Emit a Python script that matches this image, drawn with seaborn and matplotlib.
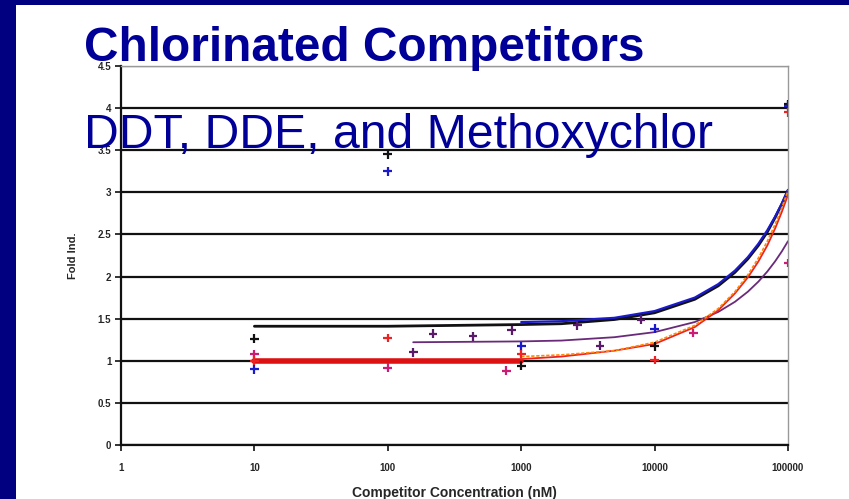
import pandas as pd
import seaborn as sns
import matplotlib.pyplot as plt
from matplotlib.patches import Rectangle

# fitted trend lines
conc_fit = [10, 100, 1000, 2000, 5000, 10000, 20000, 30000, 40000, 50000, 60000, 70000, 80000, 90000, 100000]
black_fit = [1.41, 1.41, 1.43, 1.44, 1.49, 1.57, 1.73, 1.89, 2.05, 2.21, 2.37, 2.53, 2.70, 2.86, 3.02]
blue_fit = [1.46, 1.47, 1.51, 1.59, 1.75, 1.91, 2.07, 2.23, 2.39, 2.55, 2.71, 2.87, 3.03]
purple_conc = [155, 1000, 2000, 5000, 10000, 20000, 30000, 40000, 50000, 60000, 70000, 80000, 90000, 100000]
purple_fit = [1.22, 1.23, 1.24, 1.28, 1.34, 1.46, 1.58, 1.70, 1.82, 1.94, 2.06, 2.18, 2.30, 2.42]
red_flat_conc = [10, 1000]
red_flat = [1.0, 1.0]
red_fit = [1.02, 1.05, 1.12, 1.20, 1.40, 1.60, 1.80, 1.99, 2.18, 2.37, 2.57, 2.77, 2.97]
orange_fit = [1.05, 1.07, 1.12, 1.22, 1.42, 1.62, 1.82, 2.02, 2.22, 2.42, 2.62, 2.82, 3.02]

# measured points
black_x = [10, 100, 1000, 10000, 100000]
black_y = [1.26, 3.45, 0.94, 1.17, 4.05]
blue_x = [10, 100, 1000, 10000, 100000]
blue_y = [0.90, 3.25, 1.17, 1.38, 4.03]
purple_x = [155, 218, 436, 850, 2630, 3900, 7900]
purple_y = [1.10, 1.32, 1.29, 1.36, 1.42, 1.18, 1.49]
magenta_x = [10, 100, 775, 19500, 100000]
magenta_y = [1.08, 0.92, 0.88, 1.33, 2.16]
red_x = [10, 100, 1000, 10000, 100000]
red_y = [1.00, 1.27, 1.08, 1.01, 3.95]

x_ticks = [1, 10, 100, 1000, 10000, 100000]
x_labels = ["1", "10", "100", "1000", "10000", "100000"]
y_ticks = [0, 0.5, 1, 1.5, 2, 2.5, 3, 3.5, 4, 4.5]
y_labels = ["0", "0.5", "1", "1.5", "2", "2.5", "3", "3.5", "4", "4.5"]

pts = pd.concat([
    pd.DataFrame({"conc": black_x, "val": black_y, "set": "black"}),
    pd.DataFrame({"conc": blue_x, "val": blue_y, "set": "blue"}),
    pd.DataFrame({"conc": purple_x, "val": purple_y, "set": "purple"}),
    pd.DataFrame({"conc": magenta_x, "val": magenta_y, "set": "magenta"}),
    pd.DataFrame({"conc": red_x, "val": red_y, "set": "red"}),
])
pal = {"black": "#111111", "blue": "#1a1acc", "purple": "#5a1a6a", "magenta": "#cc1a77", "red": "#ee2222"}

sns.set_style("white")
plt.rcParams['font.family'] = ['Liberation Sans', 'DejaVu Sans']

fig = plt.figure(figsize=(8.49, 4.99), dpi=100)
fig.patch.set_facecolor("#000080")
# white slide panel behind everything
panel = Rectangle((16 / 849, 0), 1, 494 / 499, transform=fig.transFigure,
                  facecolor="white", edgecolor="none", zorder=-10)
fig.patches.append(panel)
ax = fig.add_axes([121 / 849, 1 - 445 / 499, 667 / 849, 379 / 499])
ax.set_facecolor("white")
ax.set_xscale("log")

sns.lineplot(x=conc_fit, y=black_fit, color="#111111", lw=2.0, ax=ax)
sns.lineplot(x=conc_fit[2:], y=blue_fit, color="#1a1acc", lw=1.6, ax=ax)
sns.lineplot(x=purple_conc, y=purple_fit, color="#6a2a7a", lw=1.3, ax=ax)
sns.lineplot(x=red_flat_conc, y=red_flat, color="#dd1111", lw=4, ax=ax)
sns.lineplot(x=conc_fit[2:], y=red_fit, color="#ee2222", lw=1.3, ax=ax)
sns.lineplot(x=conc_fit[2:], y=orange_fit, color="#ff8800", lw=1.2, ls=(0, (2, 1)), ax=ax)

sns.scatterplot(data=pts, x="conc", y="val", hue="set", palette=pal, marker="+",
                s=40, linewidths=1.6, legend=False, ax=ax, zorder=5)

ax.set_xlim(1, 100000)
ax.set_ylim(0, 4.5)
ax.set_xticks(x_ticks)
ax.set_xticklabels(x_labels, fontsize=7, fontweight="bold")
ax.minorticks_off()
ax.set_yticks(y_ticks)
ax.set_yticklabels(y_labels, fontsize=7, fontweight="bold")
ax.tick_params(axis="both", length=4, width=1.2, color="#111111", direction="out",
               bottom=True, left=True)
ax.tick_params(axis="x", pad=9)
ax.tick_params(axis="y", pad=3)
ax.grid(axis="y", color="#111111", lw=1.6)
ax.get_ygridlines()[-1].set_color("#999999")
ax.get_ygridlines()[-1].set_linewidth(1.0)
for side in ["left", "bottom"]:
    ax.spines[side].set_color("#111111")
    ax.spines[side].set_linewidth(1.6)
for side in ["top", "right"]:
    ax.spines[side].set_visible(True)
    ax.spines[side].set_color("#999999")
    ax.spines[side].set_linewidth(1.0)
ax.set_xlabel("Competitor Concentration (nM)", fontsize=10, fontweight="bold", labelpad=9)
ax.set_ylabel("Fold Ind.", fontsize=8, fontweight="bold", labelpad=14)

fig.text(84 / 849, 1 - 61 / 499, "Chlorinated Competitors", fontsize=34.4, fontweight="bold",
         color="#000099", va="baseline", ha="left", zorder=10)
fig.text(84 / 849, 1 - 148 / 499, "DDT, DDE, and Methoxychlor", fontsize=34.7,
         color="#000099", va="baseline", ha="left", zorder=10)

fig.savefig("out.png", dpi=100, facecolor=fig.get_facecolor())
